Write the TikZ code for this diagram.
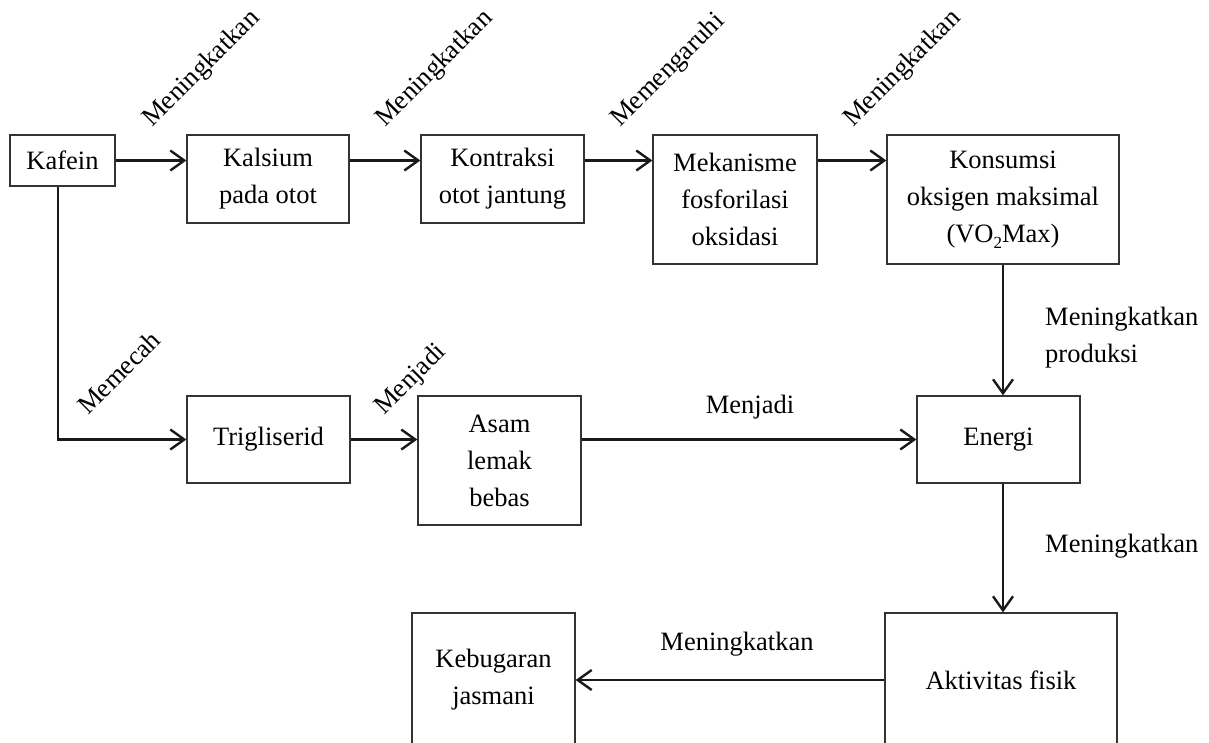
\documentclass[tikz,border=0pt]{standalone}
\usepackage{fontspec}
\setmainfont{Liberation Serif}
\usetikzlibrary{arrows.meta}
\newcommand{\txtsize}{\fontsize{26.5}{37}\selectfont}
\newcommand{\subtwo}{\raisebox{-6pt}{\fontsize{17}{17}\selectfont 2}}
\tikzset{
  box/.style={draw=black!80, line width=1.3pt, align=center, inner sep=0pt, font=\txtsize},
  link/.style={draw=black!90, line width=2.4pt, -{Straight Barb[length=14pt,width=20pt]}},
  rlbl/.style={rotate=45, anchor=base west, inner sep=0pt, font=\txtsize},
  lbl/.style={inner sep=0pt, font=\txtsize}
}

\begin{document}
\begin{tikzpicture}[x=1pt,y=-1pt]
 \useasboundingbox (0,0) rectangle (1209,742);

 \node[box, minimum width=105pt, minimum height=51pt] (kafein) at (62.5,160.5) {Kafein};
 \node[box, minimum width=162pt, minimum height=88pt] (kalsium) at (268,179) {Kalsium\\pada otot};
 \node[box, minimum width=163pt, minimum height=88pt] (kontraksi) at (502.5,179) {Kontraksi\\otot jantung};
 \node[box, minimum width=164pt, minimum height=129pt] (mekanisme) at (735,199.5) {Mekanisme\\fosforilasi\\oksidasi};
 \node[box, minimum width=232pt, minimum height=129pt] (konsumsi) at (1003,199.5) {Konsumsi\\oksigen maksimal\\(VO\subtwo Max)};
 \node[box, minimum width=163pt, minimum height=87pt] (trigliserid) at (268.5,439.5) {Trigliserid};
 \node[box, minimum width=163pt, minimum height=129pt] (asam) at (499.5,460.5) {Asam\\lemak\\bebas};
 \node[box, minimum width=163pt, minimum height=87pt] (energi) at (998.5,439.5) {Energi};
 \node[box, minimum width=232pt, minimum height=134pt] (aktivitas) at (1001,680) {Aktivitas fisik};
 \node[box, minimum width=163pt, minimum height=134pt] (kebugaran) at (493.5,680) {Kebugaran\\jasmani};

 \draw[link] (kafein.east) -- (kafein.east -| kalsium.west);
 \draw[link] (kafein.east -| kalsium.east) -- (kafein.east -| kontraksi.west);
 \draw[link] (kafein.east -| kontraksi.east) -- (kafein.east -| mekanisme.west);
 \draw[link] (kafein.east -| mekanisme.east) -- (kafein.east -| konsumsi.west);
 \draw[link] ([xshift=-4.5pt]kafein.south) |- (trigliserid.west);
 \draw[link] (trigliserid.east) -- (trigliserid.east -| asam.west);
 \draw[link] (asam.east |- energi.west) -- (energi.west);
 \draw[link] (konsumsi.south) -- (konsumsi.south |- energi.north);
 \draw[link] (konsumsi.south |- energi.south) -- (konsumsi.south |- aktivitas.north);
 \draw[link] (aktivitas.west) -- (kebugaran.east);

 \node[rlbl] (l1) at (152,128) {Meningkatkan};
 \node[rlbl] (l2) at (385,128) {Meningkatkan};
 \node[rlbl] (l3) at (620,128) {Memengaruhi};
 \node[rlbl] (l4) at (853,128) {Meningkatkan};
 \node[rlbl] (l5) at (88,416) {Memecah};
 \node[rlbl] (l6) at (384,416) {Menjadi};
 \node[lbl, anchor=base] (l7) at (750,413) {Menjadi};
 \node[lbl, anchor=north west, align=left] (l8) at (1045,307) {Meningkatkan\\produksi};
 \node[lbl, anchor=base west] (l9) at (1045,552) {Meningkatkan};
 \node[lbl, anchor=base] (l10) at (737,650) {Meningkatkan};

\end{tikzpicture}
\end{document}
